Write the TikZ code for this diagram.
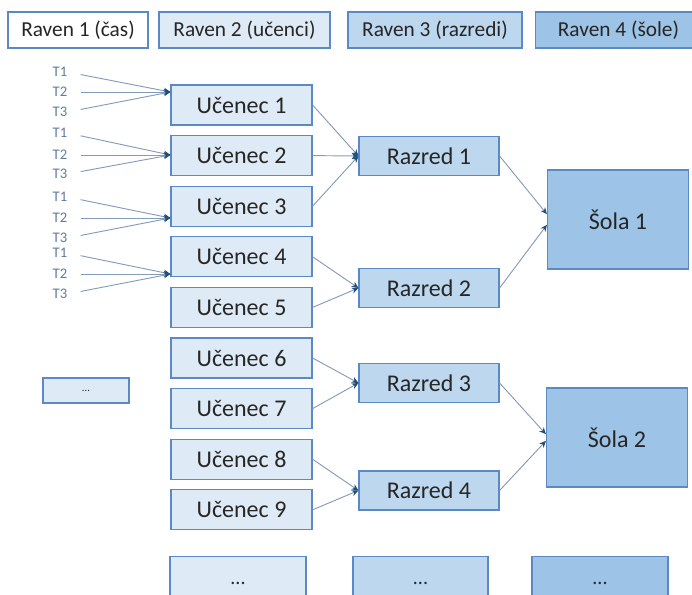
\documentclass[tikz,border=0pt]{standalone}
\usepackage{fontspec}
\setmainfont{Carlito}
\usetikzlibrary{positioning, arrows.meta}
\definecolor{BoxLine}{RGB}{91, 137, 196}
\definecolor{FillLight}{RGB}{222, 235, 247}
\definecolor{FillMid}{RGB}{189, 215, 238}
\definecolor{FillDark}{RGB}{157, 195, 230}
\definecolor{LinkGray}{RGB}{132, 155, 185}
\definecolor{TipBlue}{RGB}{31, 78, 121}
\definecolor{TimeBlue}{RGB}{95, 125, 160}
\definecolor{TextDark}{RGB}{38, 38, 38}

\begin{document}
\begin{tikzpicture}[x=0.75pt, y=-0.75pt,
    box/.style={draw=BoxLine, line width=0.9pt, text=TextDark, inner sep=0pt},
    level/.style={box, minimum height=27pt, font=\fontsize{16}{19}\selectfont},
    student/.style={box, fill=FillLight, minimum width=105.75pt, minimum height=30pt, font=\fontsize{18}{21}\selectfont},
    classbox/.style={box, fill=FillMid, minimum width=105pt, minimum height=29.25pt, font=\fontsize{18}{21}\selectfont},
    school/.style={box, fill=FillDark, minimum width=105.75pt, minimum height=74.25pt, font=\fontsize{18}{21}\selectfont},
    moreboxes/.style={box, minimum width=102pt, minimum height=40pt, font=\fontsize{15}{18}\selectfont},
    tlabel/.style={text=TimeBlue, font=\fontsize{11}{13}\selectfont, inner sep=0pt},
    link/.style={LinkGray, line width=0.7pt, -{Stealth[length=5pt, width=4.5pt, color=TipBlue]}},
    tlink/.style={link, shorten <=10pt}
  ]
    \useasboundingbox (0, 0) rectangle (692, 594);
    \clip (0, 0) rectangle (692, 594);

    % Levels
    \node[level, fill=white, minimum width=105pt] (rav1) at (78, 30) {Raven 1 (čas)};
    \node[level, fill=FillLight, minimum width=128.25pt] (rav2) at (244.5, 30) {Raven 2 (učenci)};
    \node[level, fill=FillMid, minimum width=130.5pt] (rav3) at (435, 30) {Raven 3 (razredi)};
    \node[level, fill=FillDark, minimum width=125pt] (rav4) at (618.5, 30) {Raven 4 (šole)};

    % Students
    \node[student] (u1) at (241.5, 105) {Učenec 1};
    \node[student, below=7.05pt of u1] (u2) {Učenec 2};
    \node[student, below=7.05pt of u2] (u3) {Učenec 3};
    \node[student, below=7.05pt of u3] (u4) {Učenec 4};
    \node[student, below=7.05pt of u4] (u5) {Učenec 5};
    \node[student, below=7.05pt of u5] (u6) {Učenec 6};
    \node[student, below=7.05pt of u6] (u7) {Učenec 7};
    \node[student, below=7.05pt of u7] (u8) {Učenec 8};
    \node[student, below=7.05pt of u8] (u9) {Učenec 9};

    % Classes
    \node[classbox] (r1) at (429, 156) {Razred 1};
    \node[classbox] (r2) at (429, 288) {Razred 2};
    \node[classbox] (r3) at (429, 383) {Razred 3};
    \node[classbox] (r4) at (429, 490.5) {Razred 4};

    % Schools
    \node[school] (s1) at (618, 219.5) {Šola 1};
    \node[school] (s2) at (617, 437.5) {Šola 2};

    % Time points
    \node[tlabel] (t11) at (60, 72) {T1};
    \node[tlabel] (t12) at (60, 92) {T2};
    \node[tlabel] (t13) at (60, 112) {T3};
    \node[tlabel] (t21) at (60, 133) {T1};
    \node[tlabel] (t22) at (60, 155) {T2};
    \node[tlabel] (t23) at (60, 174) {T3};
    \node[tlabel] (t31) at (60, 197) {T1};
    \node[tlabel] (t32) at (60, 218) {T2};
    \node[tlabel] (t33) at (60, 238) {T3};
    \node[tlabel] (t41) at (60, 253) {T1};
    \node[tlabel] (t42) at (60, 274) {T2};
    \node[tlabel] (t43) at (60, 294) {T3};

    % More units
    \node[box, fill=FillLight, minimum width=64.5pt, minimum height=18.75pt, font=\fontsize{8}{10}\selectfont] (more1) at (86, 390.5) {...};
    \node[moreboxes, fill=FillLight] (more2) at (238, 583.5) {...};
    \node[moreboxes, fill=FillMid, minimum width=101.25pt] (more3) at (420.5, 583.5) {...};
    \node[moreboxes, fill=FillDark] (more4) at (600, 583.5) {...};

    % Time -> students
    \draw[tlink] (t11.east) -- (u1.west |- t12);
    \draw[tlink] (t12.east) -- (u1.west |- t12);
    \draw[tlink] (t13.east) -- (u1.west |- t12);
    \draw[tlink] (t21.east) -- (u2.west |- t22);
    \draw[tlink] (t22.east) -- (u2.west |- t22);
    \draw[tlink] (t23.east) -- (u2.west |- t22);
    \draw[tlink] (t31.east) -- (u3.west |- t32);
    \draw[tlink] (t32.east) -- (u3.west |- t32);
    \draw[tlink] (t33.east) -- (u3.west |- t32);
    \draw[tlink] (t41.east) -- (u4.west |- t42);
    \draw[tlink] (t42.east) -- (u4.west |- t42);
    \draw[tlink] (t43.east) -- (u4.west |- t42);

    % Students -> classes
    \draw[link] (u1.east) -- (r1.west);
    \draw[link] (u2.east) -- (r1.west);
    \draw[link] (u3.east) -- (r1.west);
    \draw[link] (u4.east) -- (r2.west);
    \draw[link] (u5.east) -- (r2.west);
    \draw[link] (u6.east) -- (r3.west);
    \draw[link] (u7.east) -- (r3.west);
    \draw[link] (u8.east) -- (r4.west);
    \draw[link] (u9.east) -- (r4.west);

    % Classes -> schools
    \draw[link] (r1.east) -- ([yshift=4pt]s1.west);
    \draw[link] (r2.east) -- ([yshift=-4pt]s1.west);
    \draw[link] (r3.east) -- ([yshift=2.5pt]s2.west);
    \draw[link] (r4.east) -- ([yshift=-2.5pt]s2.west);
  \end{tikzpicture}
\end{document}
